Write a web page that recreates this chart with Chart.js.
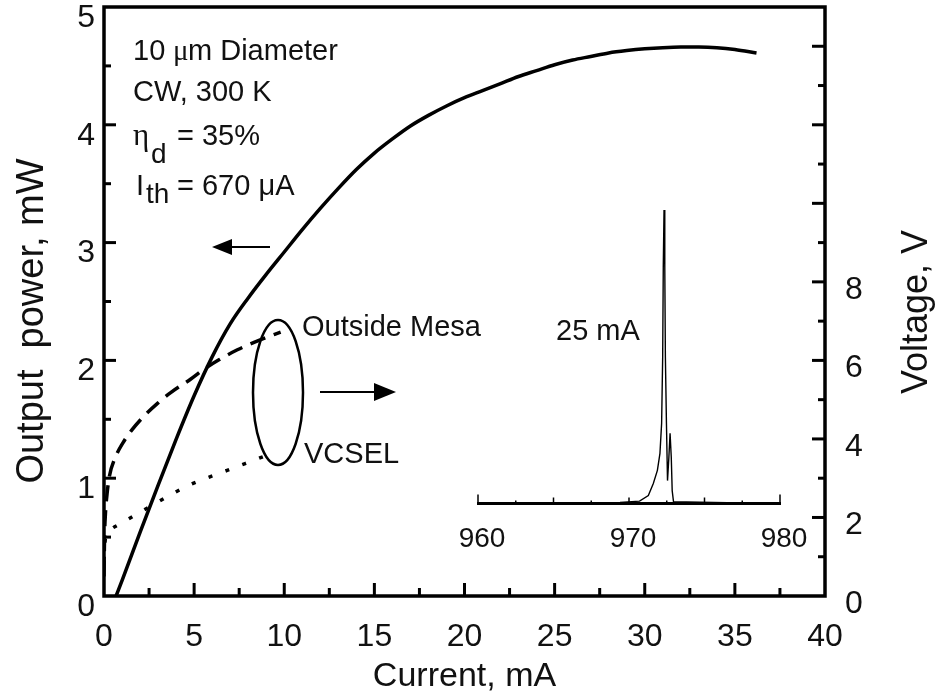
<!DOCTYPE html>
<html>
<head>
<meta charset="utf-8">
<script src="https://cdn.jsdelivr.net/npm/chart.js@4"></script>
<style>
  html, body { margin: 0; padding: 0; background: #fff; }
  #wrap { position: relative; width: 937px; height: 700px; }
  #main { position: absolute; left: 0; top: 0; }
  #inset { position: absolute; left: 440px; top: 170px; }
</style>
</head>
<body>
<div id="wrap">
  <canvas id="main" width="937" height="700"></canvas>
  <canvas id="inset" width="380" height="400"></canvas>
</div>
<script>
// Light output vs drive current (left axis)
const currentMA = [0.67, 1, 2, 3, 4, 5, 6, 7, 8, 9, 10, 11, 12, 13, 14, 15, 16, 17, 18, 19, 20,
  21, 22, 23, 24, 25, 26, 27, 28, 29, 30, 31, 32, 33, 34, 35, 36.2];
const powerMW = [0, 0.13, 0.54, 0.94, 1.33, 1.70, 2.03, 2.31, 2.53, 2.73, 2.92, 3.11, 3.29, 3.46, 3.62,
  3.76, 3.88, 3.99, 4.08, 4.16, 4.23, 4.29, 4.35, 4.41, 4.46, 4.51, 4.55, 4.58, 4.61, 4.63, 4.645,
  4.655, 4.66, 4.66, 4.655, 4.64, 4.61];

// Voltage vs current, contact outside the mesa (right axis)
const mesaCurrentMA = [0, 0.03, 0.08, 0.17, 0.3, 0.6, 1.05, 1.55, 2.3, 3.0, 3.7, 4.8, 5.5, 6.4, 7.4, 8.8, 9.8];
const mesaVoltageV = [0.5, 1.5, 2.1, 2.6, 3.05, 3.5, 3.9, 4.23, 4.62, 4.92, 5.18, 5.52, 5.76, 6.02, 6.27, 6.55, 6.72];

// Voltage vs current across the VCSEL (right axis)
const vcselCurrentMA = [0, 0.05, 0.15, 0.3, 0.9, 1.8, 2.7, 3.7, 4.8, 6.2, 7.3, 8.1, 9.3];
const vcselVoltageV = [0.9, 1.35, 1.56, 1.66, 1.84, 2.08, 2.32, 2.58, 2.84, 3.09, 3.28, 3.42, 3.63];

// Emission spectrum at 25 mA (inset, normalised intensity)
const wavelengthNm = [960, 962, 964, 966, 968, 969.4, 970.7, 971.28, 971.61, 971.88, 972.05, 972.16,
  972.23, 972.27, 972.32, 972.37, 972.41, 972.48, 972.55, 972.64, 972.72, 972.8, 972.86, 972.95,
  973.8, 976.5, 980];
const intensityAU = [0.002, 0.002, 0.002, 0.003, 0.003, 0.004, 0.008, 0.027, 0.068, 0.113, 0.171, 0.273,
  0.498, 0.805, 1.0, 0.805, 0.498, 0.273, 0.078, 0.157, 0.239, 0.157, 0.044, 0.005,
  0.005, 0.003, 0.002];

// Tick labels
const voltageTickLabels = [0, 2, 4, 6, 8];
const wavelengthTickLabels = [960, 970, 980];

const FONT = '"Liberation Sans", Arial, Helvetica, sans-serif';
const SERIF = '"Liberation Serif", "Times New Roman", serif';
const INK = '#111';

const pts = (xs, ys) => xs.map((x, i) => ({ x, y: ys[i] }));

function seg(ctx, x1, y1, x2, y2) {
  ctx.beginPath(); ctx.moveTo(x1, y1); ctx.lineTo(x2, y2); ctx.stroke();
}
function arrow(ctx, xFrom, xTip, y, headLen, halfH) {
  const dir = Math.sign(xTip - xFrom);
  ctx.lineWidth = 2;
  seg(ctx, xFrom, y, xTip - dir * headLen * 0.8, y);
  ctx.beginPath();
  ctx.moveTo(xTip, y);
  ctx.lineTo(xTip - dir * headLen, y - halfH);
  ctx.lineTo(xTip - dir * headLen, y + halfH);
  ctx.closePath(); ctx.fill();
}
function txt(ctx, s, x, y, size, family) {
  ctx.font = size + 'px ' + (family || FONT);
  ctx.fillText(s, x, y);
  return x + ctx.measureText(s).width;
}

// Frame, inward tick marks, annotations and axis titles of the main plot
const mainDecor = {
  id: 'mainDecor',
  afterDraw(chart) {
    const { ctx, chartArea: a, scales } = chart;
    ctx.save();
    ctx.strokeStyle = '#000'; ctx.fillStyle = '#000';
    ctx.lineWidth = 3.5;
    ctx.strokeRect(a.left, a.top, a.right - a.left, a.bottom - a.top);

    ctx.lineWidth = 3;
    for (let v = 2.5; v < 40; v += 2.5) {
      const px = scales.x.getPixelForValue(v);
      seg(ctx, px, a.bottom, px, a.bottom - (v % 5 === 0 ? 13 : 8));
    }
    for (let v = 0.5; v < 5; v += 0.5) {
      const py = scales.y.getPixelForValue(v);
      seg(ctx, a.left, py, a.left + (Number.isInteger(v) ? 12 : 7), py);
    }
    for (let v = 1; v < 15; v += 1) {
      const py = scales.y2.getPixelForValue(v);
      seg(ctx, a.right, py, a.right - (v % 2 === 0 ? 13 : 7), py);
    }

    // curve-to-axis arrows and the ellipse grouping the I-V curves
    arrow(ctx, 270, 212, 247, 20, 8);
    arrow(ctx, 320, 396, 392, 22, 9);
    ctx.lineWidth = 2.5;
    ctx.beginPath();
    ctx.ellipse(278, 392.5, 25, 72.5, 0, 0, Math.PI * 2);
    ctx.stroke();

    // text annotations
    ctx.fillStyle = INK;
    ctx.textBaseline = 'alphabetic'; ctx.textAlign = 'left';
    txt(ctx, '10', 133, 60, 29);
    txt(ctx, 'μ', 173, 60, 29, SERIF);
    txt(ctx, 'm Diameter', 188, 60, 29);
    txt(ctx, 'CW, 300 K', 133, 101, 29);
    txt(ctx, 'η', 133, 145, 31, SERIF);
    txt(ctx, 'd', 151, 163, 28);
    txt(ctx, '= 35%', 177, 145, 29);
    txt(ctx, 'I', 136, 195, 29);
    txt(ctx, 'th', 146, 203, 28);
    txt(ctx, '= 670 μA', 177, 195, 29);
    txt(ctx, 'Outside Mesa', 302, 336, 29);
    txt(ctx, 'VCSEL', 304, 463, 29);
    txt(ctx, '25 mA', 556, 340, 29);

    // vertical axis titles, both reading bottom-to-top
    ctx.textAlign = 'center';
    ctx.save();
    ctx.translate(43, 321); ctx.rotate(-Math.PI / 2);
    txt(ctx, 'Output  power, mW', 0, 0, 38);
    ctx.restore();
    ctx.save();
    ctx.translate(927, 312); ctx.rotate(-Math.PI / 2);
    txt(ctx, 'Voltage, V', 0, 0, 36);
    ctx.restore();
    ctx.restore();
  }
};

const common = {
  responsive: false, animation: false, devicePixelRatio: 1, events: [],
  plugins: { legend: { display: false }, tooltip: { enabled: false } },
  elements: { point: { radius: 0 } }
};

// fixed box sizes so the plot area lands at the same place every time
const fixH = h => s => { s.height = h; s.paddingLeft = 0; s.paddingRight = 0; };
const fixW = w => s => { s.width = w; s.paddingTop = 0; s.paddingBottom = 0; };

new Chart(document.getElementById('main'), {
  type: 'line',
  data: {
    datasets: [
      { data: pts(currentMA, powerMW), yAxisID: 'y', borderColor: '#000', borderWidth: 3.5,
        cubicInterpolationMode: 'monotone' },
      { data: pts(mesaCurrentMA, mesaVoltageV), yAxisID: 'y2', borderColor: '#000', borderWidth: 3.5,
        borderDash: [16, 9], cubicInterpolationMode: 'monotone' },
      { data: pts(vcselCurrentMA, vcselVoltageV), yAxisID: 'y2', borderColor: '#000', borderWidth: 3.5,
        borderDash: [4, 14], cubicInterpolationMode: 'monotone' }
    ]
  },
  options: {
    ...common,
    layout: { padding: { top: 7, left: 0, right: 0, bottom: 0 } },
    scales: {
      x: {
        type: 'linear', position: 'bottom', min: 0, max: 40,
        afterFit: fixH(104),
        grid: { display: false, drawTicks: false }, border: { display: false },
        ticks: { stepSize: 5, padding: 22, color: INK, font: { size: 32, family: FONT } },
        title: { display: true, text: 'Current, mA', color: INK,
          font: { size: 34, family: FONT }, padding: { top: 0, bottom: 3 } }
      },
      y: {
        type: 'linear', position: 'left', min: 0, max: 5,
        afterFit: fixW(104),
        grid: { display: false, drawTicks: false }, border: { display: false },
        ticks: { stepSize: 1, padding: 9, labelOffset: 11, color: INK, font: { size: 32, family: FONT } }
      },
      y2: {
        type: 'linear', position: 'right', min: 0, max: 15,
        afterFit: fixW(112),
        grid: { display: false, drawTicks: false }, border: { display: false },
        ticks: { stepSize: 2, padding: 20, labelOffset: 8, color: INK, font: { size: 32, family: FONT },
          callback: v => voltageTickLabels.includes(v) ? String(v) : '' }
      }
    }
  },
  plugins: [mainDecor]
});

// Inward tick marks of the spectrum inset
const insetTicks = {
  id: 'insetTicks',
  afterDraw(chart) {
    const { ctx, chartArea: a, scales } = chart;
    ctx.save();
    ctx.strokeStyle = '#000'; ctx.lineWidth = 1.5;
    for (let v = 960; v <= 980; v += 2.5) {
      const px = scales.x.getPixelForValue(v);
      const L = (v === 960 || v === 980) ? 9 : (v % 5 === 0 ? 6 : 3);
      seg(ctx, px, a.bottom, px, a.bottom - L);
    }
    ctx.restore();
  }
};

new Chart(document.getElementById('inset'), {
  type: 'line',
  data: {
    datasets: [
      { data: pts(wavelengthNm, intensityAU), borderColor: '#000', borderWidth: 1.4, tension: 0 }
    ]
  },
  options: {
    ...common,
    layout: { padding: { top: 40, left: 38, right: 40, bottom: 0 } },
    scales: {
      x: {
        type: 'linear', position: 'bottom', min: 960, max: 980,
        afterFit: fixH(66.5),
        grid: { display: false, drawTicks: false },
        border: { display: true, color: '#000', width: 3 },
        ticks: { stepSize: 10, padding: 19, labelOffset: 4, color: INK, font: { size: 28, family: FONT },
          callback: v => wavelengthTickLabels.includes(v) ? String(v) : '' }
      },
      y: { display: false, min: 0, max: 1 }
    }
  },
  plugins: [insetTicks]
});
</script>
</body>
</html>
